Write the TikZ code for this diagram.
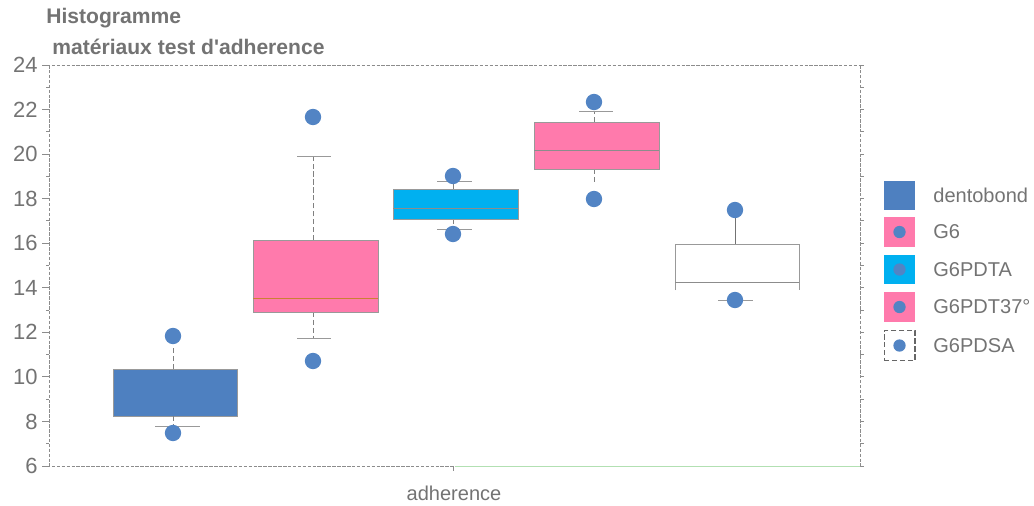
\documentclass[tikz,border=0pt]{standalone}
\usepackage{fontspec}
\setmainfont{Liberation Sans}
\begin{document}
\begin{tikzpicture}[x=0.02cm,y=-0.02cm,
  axisline/.style={draw=black!45,line width=0.5pt,dash pattern=on 2pt off 0.8pt},
  tickline/.style={draw=black!45,line width=0.5pt},
  lbl/.style={text=black!55,font=\fontsize{11.4pt}{13pt}\selectfont,inner sep=0pt},
  ticklbl/.style={text=black!55,font=\fontsize{12.5pt}{14pt}\selectfont,inner sep=0pt},
  ttl/.style={text=black!55,font=\fontsize{12pt}{14pt}\selectfont\bfseries,inner sep=0pt,anchor=west},
  whisk/.style={draw=black!50,line width=0.5pt,dash pattern=on 3pt off 1.5pt},
  capline/.style={draw=black!40,line width=0.5pt},
  boxedge/.style={draw=black!40,line width=0.5pt},
  medline/.style={draw=black!45,line width=0.5pt},
  dot/.style={circle,fill=dotblue,minimum size=9.3pt,inner sep=0pt,draw=none},
  legsq/.style={minimum width=17.6pt,minimum height=16.8pt,inner sep=0pt,draw=none},
  legdot/.style={circle,fill=dotblue,minimum size=7pt,inner sep=0pt}]
\definecolor{dentoblue}{RGB}{78,128,192}
\definecolor{dotblue}{RGB}{82,132,196}
\definecolor{gpink}{RGB}{255,122,172}
\definecolor{gcyan}{RGB}{0,176,240}
\useasboundingbox (0,0) rectangle (1034,505);

% titles
\node[ttl] (t1) at (46,18) {Histogramme};
\node[ttl] (t2) at (52,47) {matériaux test d\textquotesingle adherence};

% axes frame
\draw[axisline] (42,65) -- (861,65);
\draw[axisline] (42,466) -- (861,466);
\draw[axisline] (49,65) -- (49,466);
\draw[axisline] (860,65) -- (860,466);
\draw[draw=green!60!black!30,line width=0.5pt] (455,466) -- (861,466);
\draw[tickline] (453,466) -- (453,471);

% left ticks and labels
\foreach \v in {6,8,...,24}{
  \pgfmathsetmacro{\py}{466-(\v-6)*22.28}
  \draw[tickline] (42,\py) -- (49,\py);
  \node[ticklbl,anchor=east] (y\v) at (38,\py) {\v};
}
\foreach \v in {7,9,...,23}{
  \pgfmathsetmacro{\py}{466-(\v-6)*22.28}
  \draw[tickline] (46,\py) -- (49,\py);
}
% right ticks
\foreach \v in {6,7,...,24}{
  \pgfmathsetmacro{\py}{466-(\v-6)*22.28}
  \draw[tickline] (860,\py) -- (864,\py);
}

% x label
\node[lbl] (xl) at (454,493) {adherence};

% ---- box 1 dentobond
\fill[dentoblue] (113,369) rectangle (237,416);
\draw[boxedge] (113,369) rectangle (237,416);
\draw[whisk] (173,369) -- (173,346);
\draw[whisk] (173,416) -- (173,426);
\draw[capline] (155,426) -- (200,426);
\node[dot] (o1a) at (173,336) {};
\node[dot] (o1b) at (173,433) {};

% ---- box 2 G6
\draw[whisk] (313,240) -- (313,156);
\draw[capline] (297,156) -- (331,156);
\draw[whisk] (313,312) -- (313,338);
\draw[capline] (297,338) -- (331,338);
\fill[gpink] (253,240) rectangle (378,312);
\draw[boxedge] (253,240) rectangle (378,312);
\draw[draw=brown!80!orange,line width=0.5pt] (253,298) -- (378,298);
\node[dot] (o2a) at (313,117) {};
\node[dot] (o2b) at (313,361) {};

% ---- box 3 G6PDTA
\draw[whisk] (453,189) -- (453,181);
\draw[capline] (437,181) -- (472,181);
\draw[whisk] (453,219) -- (453,229);
\draw[capline] (437,229) -- (472,229);
\fill[gcyan] (393,189) rectangle (518,219);
\draw[boxedge] (393,189) rectangle (518,219);
\draw[medline] (393,208) -- (518,208);
\node[dot] (o3a) at (453,176) {};
\node[dot] (o3b) at (453,234) {};

% ---- box 4 G6PDT37
\draw[whisk] (594,122) -- (594,111);
\draw[capline] (579,111) -- (613,111);
\draw[whisk] (594,169) -- (594,184);
\fill[gpink] (534,122) rectangle (659,169);
\draw[boxedge] (534,122) rectangle (659,169);
\draw[medline] (534,150) -- (659,150);
\node[dot] (o4a) at (594,102) {};
\node[dot] (o4b) at (594,199) {};

% ---- box 5 G6PDSA
\draw[draw=black!55,line width=0.5pt] (735,244) -- (735,216);
\draw[boxedge] (675,290) -- (675,244) -- (799,244) -- (799,290);
\draw[medline] (675,282) -- (799,282);
\draw[capline] (718,300) -- (753,300);
\node[dot] (o5a) at (735,210) {};
\node[dot] (o5b) at (735,300) {};

% ---- legend
\node[legsq,fill=dentoblue] (l1) at (899.5,195.5) {};
\node[legsq,fill=gpink] (l2) at (899.5,232) {};
\node[legdot] (d2) at (l2) {};
\node[legsq,fill=gcyan] (l3) at (899.5,269.5) {};
\node[legdot] (d3) at (l3) {};
\node[legsq,fill=gpink] (l4) at (899.5,307) {};
\node[legdot] (d4) at (l4) {};
\node[legsq,fill=white,draw=black!60,line width=0.6pt,dash pattern=on 3pt off 1.5pt] (l5) at (899.5,345.5) {};
\node[legdot] (d5) at (l5) {};
\node[lbl,anchor=west] (n1) at (933,195.5) {dentobond};
\node[lbl,anchor=west] (n2) at (933,232) {G6};
\node[lbl,anchor=west] (n3) at (933,269.5) {G6PDTA};
\node[lbl,anchor=west] (n4) at (933,307) {G6PDT37°};
\node[lbl,anchor=west] (n5) at (933,345.5) {G6PDSA};
\end{tikzpicture}
\end{document}
